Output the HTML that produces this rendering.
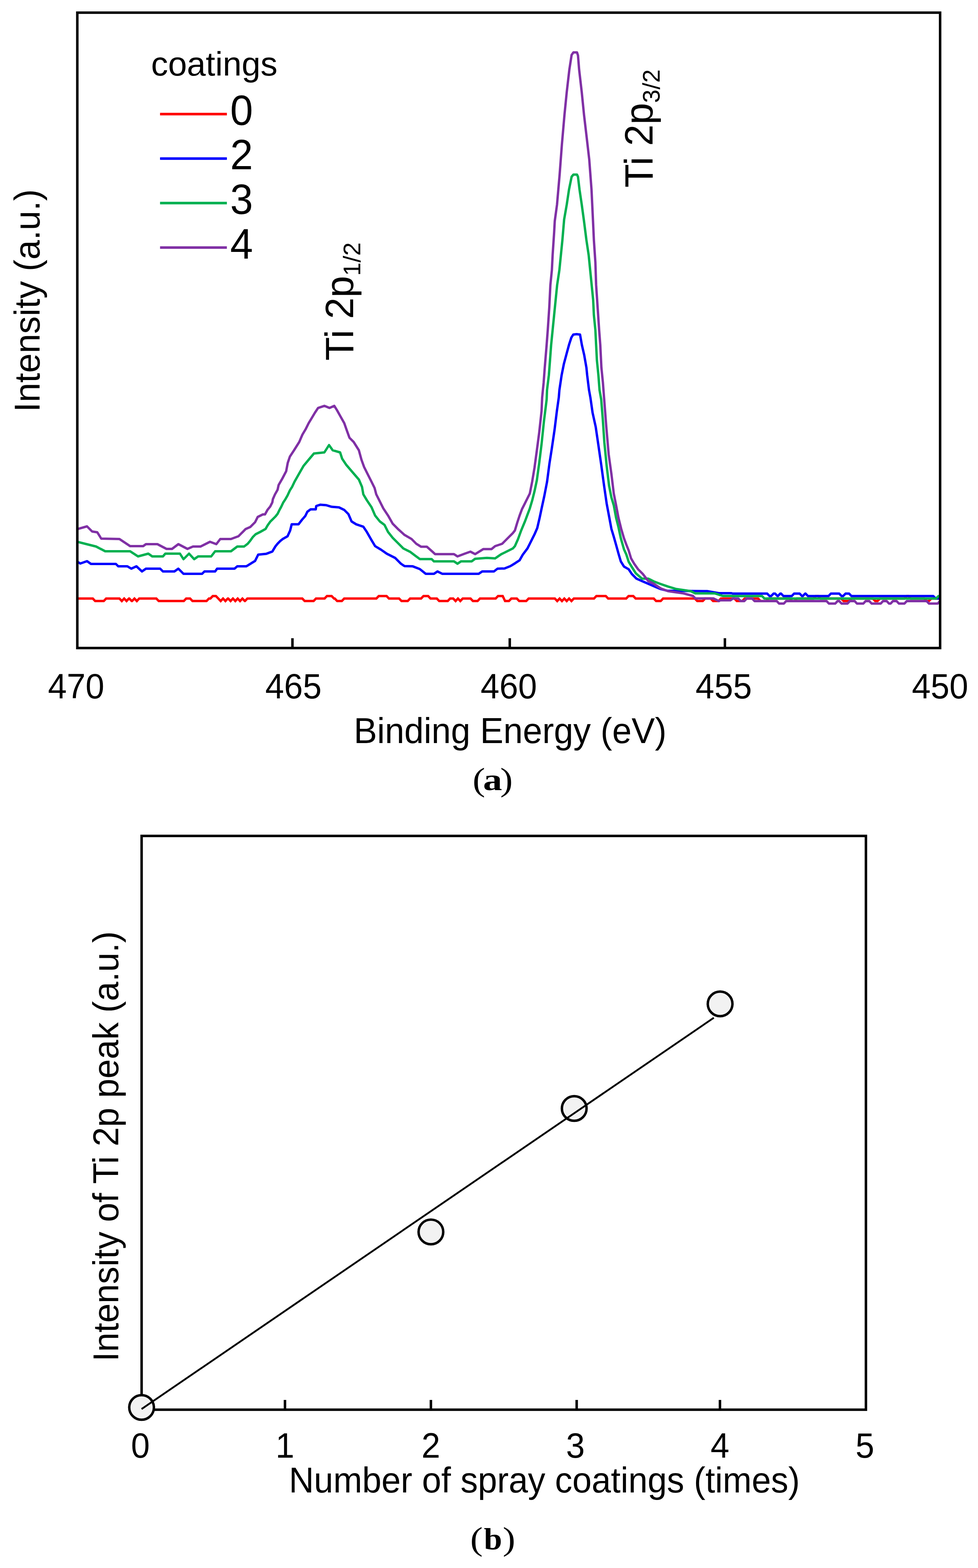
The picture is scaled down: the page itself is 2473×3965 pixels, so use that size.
<!DOCTYPE html><html><head><meta charset="utf-8"><style>html,body{margin:0;padding:0;background:#fff;}svg{display:block;}</style></head><body><svg width="2473" height="3965" viewBox="0 0 2473 3965">
<rect width="2473" height="3965" fill="#fff"/>
<line x1="739.5" y1="1638.7" x2="739.5" y2="1613.8" stroke="#000" stroke-width="6.3"/>
<line x1="1289.0" y1="1638.7" x2="1289.0" y2="1613.8" stroke="#000" stroke-width="6.3"/>
<line x1="1833.0" y1="1638.7" x2="1833.0" y2="1613.8" stroke="#000" stroke-width="6.3"/>
<defs><clipPath id="ca"><rect x="195.5" y="32" width="2181.7" height="1606.7"/></clipPath></defs>
<g clip-path="url(#ca)" fill="none" stroke-width="6.0" stroke-linejoin="round" stroke-linecap="butt">
<path d="M195.0,1513.5 L198.0,1513.5 L234.6,1513.5 L240.6,1519.8 L262.4,1519.8 L268.4,1513.5 L302.0,1513.5 L308.0,1519.8 L308.0,1519.8 L314.0,1513.5 L314.0,1513.5 L320.0,1519.8 L320.0,1519.8 L326.0,1513.5 L327.0,1513.5 L333.0,1519.8 L334.0,1519.8 L340.0,1513.5 L340.0,1513.5 L346.0,1519.8 L346.0,1519.8 L352.0,1513.5 L395.3,1513.5 L401.3,1519.8 L464.8,1519.8 L470.8,1513.5 L480.7,1513.5 L486.7,1519.8 L522.3,1519.8 L528.3,1513.5 L532.0,1513.5 L538.0,1507.2 L546.0,1507.2 L552.0,1513.5 L552.0,1513.5 L558.0,1519.8 L558.0,1519.8 L564.0,1513.5 L564.0,1513.5 L570.0,1519.8 L570.0,1519.8 L576.0,1513.5 L577.0,1513.5 L583.0,1519.8 L583.0,1519.8 L589.0,1513.5 L589.0,1513.5 L595.0,1519.8 L595.0,1519.8 L601.0,1513.5 L601.0,1513.5 L607.0,1519.8 L607.0,1519.8 L613.0,1513.5 L613.0,1513.5 L619.0,1519.8 L619.5,1519.8 L625.5,1513.5 L764.4,1513.5 L770.4,1519.8 L787.0,1519.8 L793.0,1519.8 L793.0,1519.8 L799.0,1513.5 L820.7,1513.5 L826.7,1507.2 L838.6,1507.2 L844.6,1513.5 L846.5,1513.5 L852.5,1519.8 L864.4,1519.8 L870.4,1513.5 L951.7,1513.5 L957.7,1507.2 L977.5,1507.2 L983.5,1513.5 L1009.2,1513.5 L1015.2,1519.8 L1031.0,1519.8 L1037.0,1513.5 L1064.8,1513.5 L1070.8,1507.2 L1082.6,1507.2 L1088.6,1513.5 L1104.5,1513.5 L1110.5,1519.8 L1132.2,1519.8 L1138.2,1513.5 L1146.0,1513.5 L1152.0,1519.8 L1152.0,1519.8 L1158.0,1513.5 L1158.0,1513.5 L1164.0,1519.8 L1164.0,1519.8 L1170.0,1513.5 L1189.8,1513.5 L1195.8,1519.8 L1207.6,1519.8 L1213.6,1513.5 L1253.3,1513.5 L1259.3,1507.2 L1271.1,1507.2 L1277.1,1519.8 L1287.0,1519.8 L1293.0,1513.5 L1306.8,1513.5 L1312.8,1519.8 L1330.7,1519.8 L1336.7,1513.5 L1403.0,1513.5 L1409.0,1519.8 L1409.0,1519.8 L1415.0,1513.5 L1415.0,1513.5 L1421.0,1519.8 L1421.0,1519.8 L1427.0,1513.5 L1427.0,1513.5 L1433.0,1519.8 L1433.0,1519.8 L1439.0,1513.5 L1439.0,1513.5 L1445.0,1519.8 L1445.0,1519.8 L1451.0,1513.5 L1502.0,1513.5 L1508.0,1507.2 L1531.8,1507.2 L1537.8,1513.5 L1583.4,1513.5 L1589.4,1507.2 L1601.3,1507.2 L1607.3,1513.5 L1653.0,1513.5 L1659.0,1519.8 L1670.7,1519.8 L1676.7,1513.5 L1722.3,1513.5 L1728.3,1513.5 L1757.0,1513.5 L1763.0,1519.8 L1777.0,1519.8 L1783.0,1513.5 L1797.0,1513.5 L1803.0,1519.8 L1817.0,1519.8 L1823.0,1513.5 L1857.0,1513.5 L1863.0,1519.8 L1877.0,1519.8 L1883.0,1513.5 L1917.0,1513.5 L1923.0,1519.8 L1937.0,1519.8 L1943.0,1513.5 L1997.0,1513.5 L2003.0,1519.8 L2009.0,1519.8 L2015.0,1513.5 L2057.0,1513.5 L2063.0,1507.2 L2069.0,1507.2 L2075.0,1513.5 L2127.0,1513.5 L2133.0,1519.8 L2147.0,1519.8 L2153.0,1513.5 L2207.0,1513.5 L2213.0,1519.8 L2219.0,1519.8 L2225.0,1513.5 L2287.0,1513.5 L2293.0,1507.2 L2297.0,1507.2 L2303.0,1513.5 L2337.0,1513.5 L2343.0,1519.8 L2349.0,1519.8 L2355.0,1513.5 L2374.0,1513.5 L2380.0,1513.5 L2375.0,1513.5" stroke="#FF0000" stroke-linejoin="miter"/>
<path d="M195.0,1420.0 L203.0,1425.0 L220.0,1419.0 L230.0,1426.0 L293.0,1426.0 L299.0,1432.0 L322.0,1432.0 L332.0,1438.0 L345.0,1432.0 L359.0,1445.0 L369.0,1438.0 L405.0,1438.0 L412.0,1445.0 L441.0,1445.0 L451.0,1438.0 L464.0,1451.0 L511.0,1451.0 L517.0,1445.0 L544.0,1445.0 L549.0,1438.0 L593.0,1438.0 L600.0,1432.0 L623.0,1432.0 L645.0,1418.4 L652.9,1402.5 L672.8,1400.6 L688.6,1394.6 L696.6,1381.4 L701.9,1374.8 L708.5,1368.1 L715.1,1362.9 L727.0,1356.2 L733.6,1341.7 L737.6,1325.8 L754.8,1325.8 L764.0,1313.9 L772.0,1304.7 L777.2,1294.0 L785.2,1288.1 L798.4,1288.1 L799.7,1279.5 L809.6,1276.3 L825.5,1277.6 L838.7,1281.6 L857.2,1283.0 L870.5,1289.5 L881.0,1300.0 L889.0,1318.6 L900.8,1325.9 L918.7,1331.8 L927.6,1345.2 L939.5,1366.0 L948.5,1381.0 L963.3,1389.9 L978.2,1400.3 L999.0,1410.7 L1013.9,1425.6 L1022.9,1431.5 L1043.7,1432.1 L1061.5,1439.0 L1076.4,1450.9 L1097.3,1450.9 L1106.2,1445.0 L1118.1,1450.9 L1210.4,1450.9 L1219.3,1445.0 L1249.0,1445.0 L1258.0,1438.0 L1275.8,1437.5 L1290.7,1431.5 L1302.0,1424.6 L1313.9,1416.7 L1321.8,1402.8 L1333.7,1386.9 L1339.7,1375.0 L1345.6,1363.1 L1351.6,1351.2 L1358.5,1335.3 L1364.5,1309.5 L1370.4,1281.7 L1376.4,1254.0 L1383.3,1218.3 L1389.3,1172.6 L1395.2,1134.9 L1402.2,1087.3 L1408.1,1039.7 L1413.0,1005.0 L1414.5,986.3 L1420.2,948.3 L1425.9,919.9 L1433.5,891.4 L1439.2,870.6 L1444.8,853.5 L1449.6,846.0 L1458.0,845.0 L1466.7,846.0 L1471.4,872.5 L1477.1,897.1 L1482.8,929.4 L1484.7,948.3 L1489.4,986.3 L1493.0,1006.0 L1498.4,1043.7 L1506.3,1079.4 L1513.3,1127.0 L1520.2,1174.6 L1527.2,1226.2 L1534.1,1273.8 L1540.1,1305.6 L1546.0,1337.3 L1552.0,1357.1 L1557.9,1378.0 L1563.9,1399.8 L1569.8,1419.7 L1577.8,1432.6 L1589.7,1439.5 L1597.6,1451.4 L1609.5,1463.3 L1625.4,1470.3 L1639.3,1476.2 L1653.2,1482.2 L1669.0,1489.1 L1688.9,1494.1 L1788.1,1494.7 L1817.9,1500.0 L1849.6,1500.0 L1852.6,1501.0 L1940.0,1501.0 L1946.0,1507.3 L1950.0,1507.3 L1956.0,1501.0 L1960.0,1501.0 L1966.0,1507.3 L1967.0,1507.3 L1973.0,1501.0 L1975.0,1501.0 L1981.0,1507.3 L2002.0,1507.3 L2008.0,1501.0 L2022.0,1501.0 L2028.0,1507.3 L2030.0,1507.3 L2036.0,1501.0 L2037.0,1501.0 L2043.0,1507.3 L2095.0,1507.3 L2101.0,1501.0 L2122.0,1501.0 L2128.0,1507.3 L2132.0,1507.3 L2138.0,1501.0 L2147.0,1501.0 L2153.0,1507.3 L2360.0,1507.3 L2366.0,1513.6 L2377.0,1513.6" stroke="#0000FF"/>
<path d="M195.0,1370.0 L223.0,1377.0 L243.0,1382.0 L266.0,1394.0 L329.0,1394.0 L349.0,1407.0 L375.0,1400.0 L385.0,1407.0 L412.0,1407.0 L418.0,1400.0 L455.0,1400.0 L464.0,1414.0 L478.0,1400.0 L491.0,1414.0 L501.0,1407.0 L534.0,1407.0 L544.0,1394.0 L584.0,1394.0 L600.0,1382.0 L617.2,1382.0 L626.5,1374.8 L633.1,1366.8 L639.7,1357.6 L646.3,1351.0 L658.2,1345.0 L671.4,1337.7 L676.7,1328.5 L683.3,1319.2 L690.0,1312.6 L696.6,1306.0 L701.9,1299.4 L707.1,1288.8 L711.1,1281.5 L716.4,1270.3 L721.7,1262.3 L727.0,1253.1 L733.0,1240.0 L738.9,1230.6 L744.8,1218.0 L756.7,1197.0 L767.3,1178.4 L780.5,1162.5 L793.8,1146.7 L820.2,1144.0 L832.0,1125.5 L841.4,1138.7 L860.0,1144.0 L865.2,1160.0 L875.8,1175.8 L891.6,1194.3 L907.5,1212.8 L915.4,1231.3 L918.7,1250.0 L927.6,1264.9 L939.5,1282.7 L948.5,1303.6 L960.4,1318.5 L972.3,1327.4 L981.2,1345.2 L993.1,1360.1 L1005.0,1372.0 L1019.9,1386.9 L1037.7,1395.8 L1049.6,1404.8 L1061.5,1413.7 L1091.3,1413.7 L1097.3,1419.6 L1147.9,1419.6 L1156.8,1425.6 L1165.7,1419.6 L1192.5,1419.6 L1201.4,1413.0 L1231.2,1410.7 L1252.0,1412.0 L1266.9,1401.8 L1284.8,1392.9 L1296.7,1386.9 L1302.0,1381.0 L1310.0,1363.0 L1317.9,1341.3 L1327.8,1317.5 L1333.7,1301.6 L1339.7,1285.7 L1345.6,1265.9 L1351.6,1242.0 L1357.5,1214.3 L1363.5,1170.6 L1369.4,1123.0 L1375.4,1065.5 L1382.3,1009.9 L1383.2,986.3 L1387.9,948.3 L1390.8,910.4 L1393.6,872.5 L1397.4,834.5 L1401.2,796.6 L1405.0,758.6 L1408.8,720.7 L1414.5,682.8 L1418.3,644.8 L1422.1,606.9 L1426.5,555.0 L1433.1,517.3 L1438.8,479.4 L1445.4,447.0 L1450.0,441.5 L1459.0,441.5 L1461.5,447.0 L1465.4,479.4 L1471.0,517.3 L1476.7,559.0 L1482.8,606.9 L1488.5,644.8 L1492.3,682.8 L1496.1,720.7 L1499.9,758.6 L1501.7,796.6 L1505.5,834.5 L1507.4,872.5 L1509.3,910.4 L1513.1,948.3 L1516.0,986.3 L1520.2,1010.0 L1524.2,1059.5 L1528.2,1119.0 L1534.1,1178.6 L1540.1,1228.2 L1546.0,1258.0 L1552.0,1277.8 L1557.9,1309.5 L1563.9,1333.3 L1569.8,1361.1 L1577.8,1388.9 L1583.7,1402.0 L1589.7,1420.6 L1597.6,1433.6 L1607.5,1449.4 L1623.4,1463.3 L1639.3,1463.3 L1653.2,1470.3 L1669.0,1476.2 L1688.9,1483.2 L1708.7,1489.1 L1746.4,1494.7 L1758.3,1500.6 L1808.0,1500.6 L1827.8,1507.0 L1849.6,1507.0 L1852.6,1507.3 L1927.0,1507.3 L1933.0,1513.6 L2367.0,1513.6 L2373.0,1507.3 L2377.0,1507.3" stroke="#00B050"/>
<path d="M195.0,1338.0 L220.0,1331.0 L233.0,1344.0 L246.0,1346.0 L256.0,1362.0 L302.0,1363.0 L329.0,1381.0 L362.0,1381.0 L369.0,1376.0 L398.0,1376.0 L421.0,1388.0 L435.0,1388.0 L451.0,1376.0 L474.0,1388.0 L488.0,1382.0 L507.0,1382.0 L531.0,1370.0 L547.0,1376.0 L557.0,1363.0 L584.0,1363.0 L603.0,1356.0 L607.9,1351.0 L614.6,1344.3 L621.2,1337.7 L633.1,1332.4 L645.0,1320.5 L651.6,1307.3 L664.8,1300.7 L670.1,1300.7 L676.7,1288.8 L683.3,1280.8 L688.6,1270.3 L690.0,1262.3 L695.2,1250.4 L701.9,1238.5 L704.5,1226.6 L714.0,1210.0 L723.6,1191.6 L727.6,1170.5 L733.0,1154.6 L743.5,1138.7 L756.7,1117.6 L764.7,1099.0 L772.6,1085.8 L780.5,1070.0 L788.5,1056.7 L796.4,1043.5 L804.3,1031.6 L820.2,1026.3 L833.4,1031.6 L845.3,1026.3 L852.0,1037.0 L860.0,1051.4 L870.5,1070.0 L877.0,1088.5 L883.7,1107.0 L894.3,1117.6 L907.5,1138.7 L914.0,1162.5 L920.7,1181.0 L928.7,1197.0 L939.3,1218.0 L947.2,1234.0 L951.4,1250.0 L960.4,1267.9 L969.3,1285.7 L981.2,1303.6 L993.1,1324.4 L1008.0,1339.3 L1022.9,1352.7 L1040.7,1363.0 L1052.6,1375.0 L1064.5,1382.4 L1079.4,1382.4 L1094.3,1395.8 L1100.2,1401.2 L1147.9,1401.2 L1156.8,1407.0 L1174.6,1400.3 L1189.5,1395.0 L1201.4,1401.2 L1222.3,1388.4 L1243.0,1388.4 L1252.0,1381.0 L1269.9,1375.0 L1281.8,1363.0 L1296.7,1348.2 L1302.0,1341.3 L1308.0,1321.4 L1313.9,1303.6 L1319.8,1287.7 L1326.8,1273.8 L1333.7,1260.0 L1339.7,1248.0 L1345.6,1218.3 L1351.6,1182.5 L1357.5,1138.9 L1363.5,1093.3 L1369.4,1039.7 L1370.9,1005.2 L1374.7,967.3 L1377.5,929.4 L1382.2,872.5 L1385.1,834.5 L1388.9,777.6 L1391.7,720.7 L1395.5,682.8 L1397.4,644.8 L1401.2,587.9 L1402.8,559.0 L1408.5,517.3 L1415.1,441.4 L1420.8,365.6 L1427.4,289.7 L1433.1,232.8 L1439.7,175.9 L1445.4,139.0 L1450.0,132.5 L1459.0,132.5 L1461.5,140.0 L1464.4,175.9 L1471.0,232.8 L1476.7,289.7 L1483.4,346.6 L1490.0,403.5 L1495.7,479.4 L1499.5,559.0 L1501.7,606.9 L1505.5,663.8 L1507.4,720.7 L1511.2,777.6 L1515.0,834.5 L1517.9,872.5 L1520.7,929.4 L1524.5,967.3 L1527.4,1005.2 L1533.1,1079.4 L1539.1,1148.8 L1546.0,1198.4 L1552.0,1248.0 L1557.9,1277.8 L1563.9,1309.5 L1570.8,1337.3 L1577.8,1361.1 L1583.7,1377.0 L1589.7,1392.0 L1595.6,1411.7 L1603.6,1425.6 L1613.5,1439.5 L1625.4,1451.4 L1639.3,1469.3 L1653.2,1476.2 L1671.0,1488.1 L1688.9,1494.7 L1728.6,1500.6 L1752.4,1507.0 L1758.3,1513.3 L1804.0,1513.3 L1817.9,1520.0 L1820.9,1518.0 L1847.0,1518.0 L1853.0,1513.6 L1867.0,1513.6 L1873.0,1519.9 L1882.0,1519.9 L1888.0,1513.6 L1902.0,1513.6 L1908.0,1519.9 L1934.0,1519.9 L1940.0,1519.9 L1964.0,1519.9 L1970.0,1526.2 L1982.0,1526.2 L1988.0,1519.9 L2090.0,1519.9 L2096.0,1526.2 L2112.0,1526.2 L2118.0,1519.9 L2122.0,1519.9 L2128.0,1526.2 L2143.0,1526.2 L2149.0,1519.9 L2161.0,1519.9 L2167.0,1526.2 L2183.0,1526.2 L2189.0,1519.9 L2198.0,1519.9 L2204.0,1526.2 L2227.0,1526.2 L2233.0,1519.9 L2242.0,1519.9 L2248.0,1526.2 L2252.0,1526.2 L2258.0,1519.9 L2267.0,1519.9 L2273.0,1526.2 L2287.0,1526.2 L2293.0,1519.9 L2343.0,1519.9 L2349.0,1526.2 L2371.0,1526.2 L2377.0,1519.9 L2377.0,1519.9" stroke="#8030A5"/>
</g>
<rect x="195.5" y="32" width="2181.7" height="1606.7" fill="none" stroke="#000" stroke-width="6.3"/>
<text transform="translate(192.5,1765.8) scale(0.955,1)" font-family="'Liberation Sans', Arial, sans-serif" font-size="89.5" text-anchor="middle">470</text>
<text transform="translate(742,1765.8) scale(0.955,1)" font-family="'Liberation Sans', Arial, sans-serif" font-size="89.5" text-anchor="middle">465</text>
<text transform="translate(1286.5,1765.8) scale(0.955,1)" font-family="'Liberation Sans', Arial, sans-serif" font-size="89.5" text-anchor="middle">460</text>
<text transform="translate(1830,1765.8) scale(0.955,1)" font-family="'Liberation Sans', Arial, sans-serif" font-size="89.5" text-anchor="middle">455</text>
<text transform="translate(2377,1765.8) scale(0.955,1)" font-family="'Liberation Sans', Arial, sans-serif" font-size="89.5" text-anchor="middle">450</text>
<text transform="translate(1290,1878.9) scale(0.966,1)" font-family="'Liberation Sans', Arial, sans-serif" font-size="91.5" text-anchor="middle">Binding Energy (eV)</text>
<text transform="translate(99.5,760.2) rotate(-90) scale(0.972,1)" font-family="'Liberation Sans', Arial, sans-serif" font-size="91.5" text-anchor="middle">Intensity (a.u.)</text>
<text x="382" y="191" font-family="'Liberation Sans', Arial, sans-serif" font-size="85.8">coatings</text>
<line x1="404.7" y1="288.5" x2="573.7" y2="288.5" stroke="#FF0000" stroke-width="6.5"/>
<text transform="translate(582,315.8) scale(0.97,1)" font-family="'Liberation Sans', Arial, sans-serif" font-size="107" text-anchor="start">0</text>
<line x1="404.7" y1="401.0" x2="573.7" y2="401.0" stroke="#0000FF" stroke-width="6.5"/>
<text transform="translate(582,428.4) scale(0.97,1)" font-family="'Liberation Sans', Arial, sans-serif" font-size="107" text-anchor="start">2</text>
<line x1="404.7" y1="513.5" x2="573.7" y2="513.5" stroke="#00B050" stroke-width="6.5"/>
<text transform="translate(582,541.0) scale(0.97,1)" font-family="'Liberation Sans', Arial, sans-serif" font-size="107" text-anchor="start">3</text>
<line x1="404.7" y1="626.0" x2="573.7" y2="626.0" stroke="#8030A5" stroke-width="6.5"/>
<text transform="translate(582,653.5999999999999) scale(0.97,1)" font-family="'Liberation Sans', Arial, sans-serif" font-size="107" text-anchor="start">4</text>
<text transform="translate(892.6,912) rotate(-90) scale(0.985,1)" font-family="'Liberation Sans', Arial, sans-serif" font-size="99.5">Ti 2p<tspan font-size="62" dy="18.8">1/2</tspan></text>
<text transform="translate(1649.5,474.5) rotate(-90) scale(0.985,1)" font-family="'Liberation Sans', Arial, sans-serif" font-size="99.5">Ti 2p<tspan font-size="62" dy="18.8">3/2</tspan></text>
<text transform="translate(1195.1,1999.3) scale(1.15,1)" font-family="'Liberation Serif', 'Times New Roman', serif" font-size="83" text-anchor="start">(</text><text transform="translate(1221.4,1998.0) scale(1.22,1)" font-family="'Liberation Serif', 'Times New Roman', serif" font-size="79" font-weight="bold">a</text><text transform="translate(1264.8,1999.3) scale(1.15,1)" font-family="'Liberation Serif', 'Times New Roman', serif" font-size="83" text-anchor="start">)</text>
<line x1="720.6" y1="3564.7" x2="720.6" y2="3540" stroke="#000" stroke-width="6.3"/>
<line x1="1089.6" y1="3564.7" x2="1089.6" y2="3540" stroke="#000" stroke-width="6.3"/>
<line x1="1458.2" y1="3564.7" x2="1458.2" y2="3540" stroke="#000" stroke-width="6.3"/>
<line x1="1820.5" y1="3564.7" x2="1820.5" y2="3540" stroke="#000" stroke-width="6.3"/>
<rect x="358.1" y="2113.8" width="1831.5" height="1450.8999999999996" fill="none" stroke="#000" stroke-width="6.3"/>
<text transform="translate(355,3686.3) scale(0.955,1)" font-family="'Liberation Sans', Arial, sans-serif" font-size="89.5" text-anchor="middle">0</text>
<text transform="translate(720.6,3686.3) scale(0.955,1)" font-family="'Liberation Sans', Arial, sans-serif" font-size="89.5" text-anchor="middle">1</text>
<text transform="translate(1089.6,3686.3) scale(0.955,1)" font-family="'Liberation Sans', Arial, sans-serif" font-size="89.5" text-anchor="middle">2</text>
<text transform="translate(1455,3686.3) scale(0.955,1)" font-family="'Liberation Sans', Arial, sans-serif" font-size="89.5" text-anchor="middle">3</text>
<text transform="translate(1820.6,3686.3) scale(0.955,1)" font-family="'Liberation Sans', Arial, sans-serif" font-size="89.5" text-anchor="middle">4</text>
<text transform="translate(2187,3686.3) scale(0.955,1)" font-family="'Liberation Sans', Arial, sans-serif" font-size="89.5" text-anchor="middle">5</text>
<text transform="translate(1376.5,3774.1) scale(0.96,1)" font-family="'Liberation Sans', Arial, sans-serif" font-size="91.4" text-anchor="middle">Number of spray coatings (times)</text>
<text transform="translate(298.8,2899) rotate(-90) scale(0.965,1)" font-family="'Liberation Sans', Arial, sans-serif" font-size="91.4" text-anchor="middle">Intensity of Ti 2p peak (a.u.)</text>
<circle cx="358" cy="3559" r="31.2" fill="#F2F2F2" stroke="#000" stroke-width="6.2"/>
<circle cx="1089.6" cy="3115.2" r="31.2" fill="#F2F2F2" stroke="#000" stroke-width="6.2"/>
<circle cx="1452" cy="2803" r="31.2" fill="#F2F2F2" stroke="#000" stroke-width="6.2"/>
<line x1="358" y1="3563" x2="1805" y2="2573.6" stroke="#000" stroke-width="4.6"/>
<circle cx="1820.9" cy="2538.5" r="31.2" fill="#F2F2F2" stroke="#000" stroke-width="6.2"/>
<text transform="translate(1189.1,3919.3) scale(1.15,1)" font-family="'Liberation Serif', 'Times New Roman', serif" font-size="83" text-anchor="start">(</text><text transform="translate(1223.5,3918.0) scale(1.05,1)" font-family="'Liberation Serif', 'Times New Roman', serif" font-size="79" font-weight="bold">b</text><text transform="translate(1271.3,3919.3) scale(1.15,1)" font-family="'Liberation Serif', 'Times New Roman', serif" font-size="83" text-anchor="start">)</text>
</svg></body></html>
